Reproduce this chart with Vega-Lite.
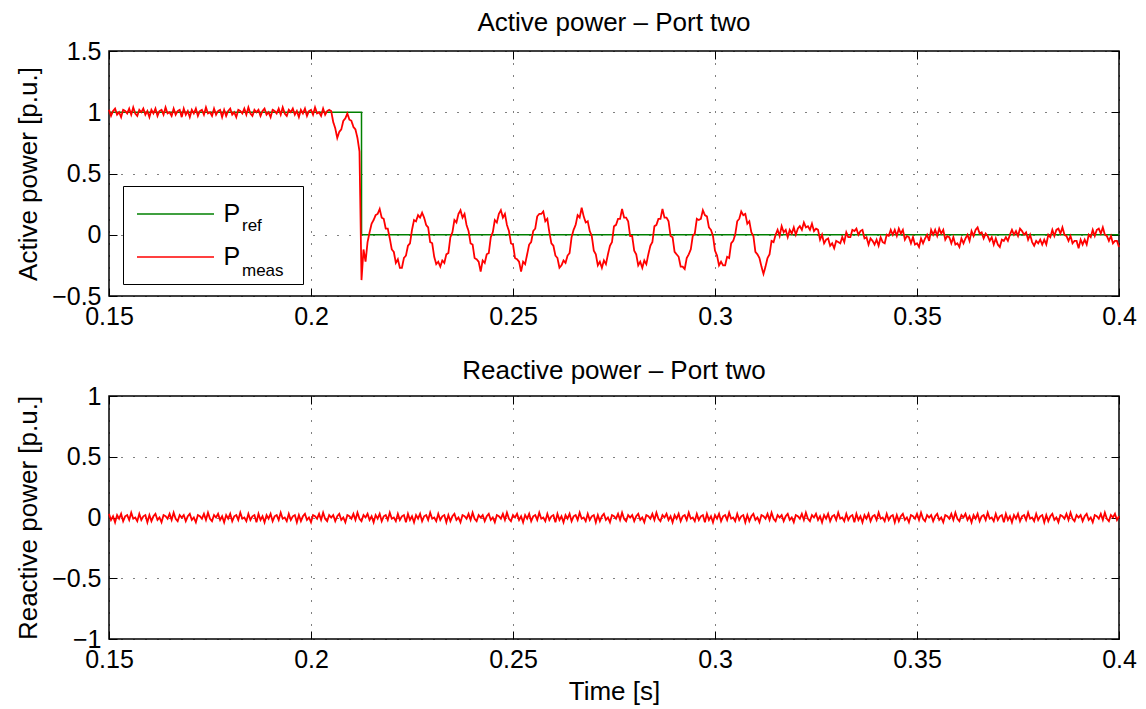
{
"$schema":"https://vega.github.io/schema/vega-lite/v6.json",
"background":"white",
"padding":{"left":14,"top":9,"right":5,"bottom":5},
"config":{"font":"Liberation Sans","view":{"stroke":"black","strokeWidth":1.5},
"axis":{"domain":false,"tickColor":"black","tickWidth":1,"tickSize":-8,"labelFontSize":25,"labelColor":"black","labelPadding":16,"labelFlush":false,"titleFontSize":26,"titleFontWeight":"normal","titleColor":"black","gridColor":"black","gridDash":[1,11],"gridOpacity":1,"gridWidth":1},
"title":{"fontSize":26,"fontWeight":"normal","color":"black","offset":3}},
"datasets":{
"ref":[{"t":0.15,"p":1},{"t":0.2125,"p":1},{"t":0.21251,"p":0},{"t":0.4,"p":0}],
"m":[
{"t":0.15,"p":1.02,"q":0.03},{"t":0.1505,"p":0.97,"q":-0.02},{"t":0.151,"p":1.01,"q":0.01},{"t":0.1515,"p":1.03,"q":-0.04},{"t":0.152,"p":0.98,"q":0.02},{"t":0.1525,"p":1.00,"q":-0.01},{"t":0.153,"p":0.96,"q":0.03},{"t":0.1535,"p":1.02,"q":-0.03},{"t":0.154,"p":1.01,"q":0.01},{"t":0.1545,"p":0.99,"q":0.02},{"t":0.155,"p":1.03,"q":-0.02},{"t":0.1555,"p":0.98,"q":0.04},{"t":0.156,"p":1.04,"q":-0.01},{"t":0.1565,"p":0.99,"q":0.00},{"t":0.157,"p":0.97,"q":-0.03},{"t":0.1575,"p":1.02,"q":0.03},{"t":0.158,"p":1.00,"q":-0.02},{"t":0.1585,"p":1.03,"q":0.01},{"t":0.159,"p":0.98,"q":0.02},{"t":0.1595,"p":1.01,"q":-0.04},{"t":0.16,"p":0.96,"q":0.02},{"t":0.1605,"p":1.02,"q":-0.03},{"t":0.161,"p":0.99,"q":0.01},{"t":0.1615,"p":1.03,"q":0.03},{"t":0.162,"p":0.97,"q":-0.02},{"t":0.1625,"p":1.01,"q":0.00},{"t":0.163,"p":1.02,"q":-0.04},{"t":0.1635,"p":0.98,"q":0.02},{"t":0.164,"p":1.04,"q":0.01},{"t":0.1645,"p":0.99,"q":-0.01},{"t":0.165,"p":1.00,"q":0.03},{"t":0.1655,"p":0.97,"q":-0.02},{"t":0.166,"p":1.03,"q":0.04},{"t":0.1665,"p":0.98,"q":-0.01},{"t":0.167,"p":1.01,"q":-0.03},{"t":0.1675,"p":1.02,"q":0.02},{"t":0.168,"p":0.96,"q":0.00},
{"t":0.1685,"p":1.03,"q":0.02},{"t":0.169,"p":0.98,"q":-0.03},{"t":0.1695,"p":1.01,"q":0.01},{"t":0.17,"p":0.96,"q":0.03},{"t":0.1705,"p":1.02,"q":-0.02},{"t":0.171,"p":0.99,"q":0.00},{"t":0.1715,"p":1.03,"q":-0.04},{"t":0.172,"p":0.97,"q":0.02},{"t":0.1725,"p":1.01,"q":0.01},{"t":0.173,"p":1.02,"q":-0.01},{"t":0.1735,"p":0.98,"q":0.03},{"t":0.174,"p":1.04,"q":-0.02},{"t":0.1745,"p":0.99,"q":0.04},{"t":0.175,"p":1.00,"q":-0.01},{"t":0.1755,"p":0.97,"q":-0.03},{"t":0.176,"p":1.03,"q":0.02},{"t":0.1765,"p":0.98,"q":0.00},{"t":0.177,"p":1.01,"q":0.03},{"t":0.1775,"p":1.02,"q":-0.02},{"t":0.178,"p":0.96,"q":0.01},{"t":0.1785,"p":1.02,"q":-0.04},{"t":0.179,"p":0.97,"q":0.02},{"t":0.1795,"p":1.01,"q":-0.01},{"t":0.18,"p":1.03,"q":0.03},{"t":0.1805,"p":0.98,"q":-0.03},{"t":0.181,"p":1.00,"q":0.01},{"t":0.1815,"p":0.96,"q":0.02},{"t":0.182,"p":1.02,"q":-0.02},{"t":0.1825,"p":1.01,"q":0.04},{"t":0.183,"p":0.99,"q":-0.01},{"t":0.1835,"p":1.03,"q":0.00},{"t":0.184,"p":0.98,"q":-0.03},{"t":0.1845,"p":1.04,"q":0.03},{"t":0.185,"p":0.99,"q":-0.02},{"t":0.1855,"p":0.97,"q":0.01},{"t":0.186,"p":1.02,"q":0.02},{"t":0.1865,"p":1.00,"q":-0.04},
{"t":0.187,"p":1.02,"q":0.03},{"t":0.1875,"p":0.97,"q":-0.02},{"t":0.188,"p":1.01,"q":0.01},{"t":0.1885,"p":1.03,"q":-0.04},{"t":0.189,"p":0.98,"q":0.02},{"t":0.1895,"p":1.00,"q":-0.01},{"t":0.19,"p":0.96,"q":0.03},{"t":0.1905,"p":1.02,"q":-0.03},{"t":0.191,"p":1.01,"q":0.01},{"t":0.1915,"p":0.99,"q":0.02},{"t":0.192,"p":1.03,"q":-0.02},{"t":0.1925,"p":0.98,"q":0.04},{"t":0.193,"p":1.04,"q":-0.01},{"t":0.1935,"p":0.99,"q":0.00},{"t":0.194,"p":0.97,"q":-0.03},{"t":0.1945,"p":1.02,"q":0.03},{"t":0.195,"p":1.00,"q":-0.02},{"t":0.1955,"p":1.03,"q":0.01},{"t":0.196,"p":0.98,"q":0.02},{"t":0.1965,"p":1.01,"q":-0.04},{"t":0.197,"p":0.96,"q":0.02},{"t":0.1975,"p":1.02,"q":-0.03},{"t":0.198,"p":0.99,"q":0.01},{"t":0.1985,"p":1.03,"q":0.03},{"t":0.199,"p":0.97,"q":-0.02},{"t":0.1995,"p":1.01,"q":0.00},{"t":0.2,"p":1.02,"q":-0.04},{"t":0.2005,"p":0.98,"q":0.02},{"t":0.201,"p":1.04,"q":0.01},{"t":0.2015,"p":0.99,"q":-0.01},{"t":0.202,"p":1.00,"q":0.03},{"t":0.2025,"p":0.97,"q":-0.02},{"t":0.203,"p":1.03,"q":0.04},{"t":0.2035,"p":0.98,"q":-0.01},{"t":0.204,"p":1.01,"q":-0.03},{"t":0.2045,"p":1.02,"q":0.02},{"t":0.205,"p":1.01,"q":0.00},
{"t":0.2055,"p":0.92,"q":0.02},{"t":0.206,"p":0.87,"q":-0.03},{"t":0.2065,"p":0.79,"q":0.01},{"t":0.207,"p":0.84,"q":0.03},{"t":0.2075,"p":0.86,"q":-0.02},{"t":0.208,"p":0.93,"q":0.00},{"t":0.2085,"p":0.95,"q":-0.04},{"t":0.209,"p":0.99,"q":0.02},{"t":0.2095,"p":0.94,"q":0.01},{"t":0.21,"p":0.93,"q":-0.01},{"t":0.2105,"p":0.88,"q":0.03},{"t":0.211,"p":0.86,"q":-0.02},{"t":0.2115,"p":0.79,"q":0.04},{"t":0.212,"p":0.68,"q":-0.01},{"t":0.2125,"p":-0.37,"q":-0.03},{"t":0.213,"p":-0.12,"q":0.02},{"t":0.2135,"p":-0.22,"q":0.00},{"t":0.214,"p":-0.06,"q":0.03},{"t":0.2145,"p":0.02,"q":-0.02},{"t":0.215,"p":0.09,"q":0.01},{"t":0.2155,"p":0.12,"q":-0.04},{"t":0.216,"p":0.16,"q":0.02},{"t":0.2165,"p":0.17,"q":-0.01},{"t":0.217,"p":0.21,"q":0.03},{"t":0.2175,"p":0.14,"q":-0.03},{"t":0.218,"p":0.13,"q":0.01},{"t":0.2185,"p":0.05,"q":0.02},{"t":0.219,"p":0.05,"q":-0.02},{"t":0.2195,"p":-0.03,"q":0.04},{"t":0.22,"p":-0.12,"q":-0.01},{"t":0.2205,"p":-0.14,"q":0.00},{"t":0.221,"p":-0.23,"q":-0.03},{"t":0.2215,"p":-0.20,"q":0.03},{"t":0.222,"p":-0.27,"q":-0.02},{"t":0.2225,"p":-0.27,"q":0.01},{"t":0.223,"p":-0.19,"q":0.02},{"t":0.2235,"p":-0.17,"q":-0.04},
{"t":0.224,"p":-0.09,"q":0.03},{"t":0.2245,"p":-0.07,"q":-0.02},{"t":0.225,"p":0.04,"q":0.01},{"t":0.2255,"p":0.12,"q":-0.04},{"t":0.226,"p":0.11,"q":0.02},{"t":0.2265,"p":0.16,"q":-0.01},{"t":0.227,"p":0.14,"q":0.03},{"t":0.2275,"p":0.18,"q":-0.03},{"t":0.228,"p":0.14,"q":0.01},{"t":0.2285,"p":0.08,"q":0.02},{"t":0.229,"p":0.06,"q":-0.02},{"t":0.2295,"p":-0.06,"q":0.04},{"t":0.23,"p":-0.07,"q":-0.01},{"t":0.2305,"p":-0.18,"q":0.00},{"t":0.231,"p":-0.24,"q":-0.03},{"t":0.2315,"p":-0.22,"q":0.03},{"t":0.232,"p":-0.26,"q":-0.02},{"t":0.2325,"p":-0.21,"q":0.01},{"t":0.233,"p":-0.23,"q":0.02},{"t":0.2335,"p":-0.16,"q":-0.04},{"t":0.234,"p":-0.15,"q":0.02},{"t":0.2345,"p":-0.02,"q":-0.03},{"t":0.235,"p":0.02,"q":0.01},{"t":0.2355,"p":0.12,"q":0.03},{"t":0.236,"p":0.10,"q":-0.02},{"t":0.2365,"p":0.17,"q":0.00},{"t":0.237,"p":0.20,"q":-0.04},{"t":0.2375,"p":0.14,"q":0.02},{"t":0.238,"p":0.17,"q":0.01},{"t":0.2385,"p":0.08,"q":-0.01},{"t":0.239,"p":0.03,"q":0.03},{"t":0.2395,"p":-0.07,"q":-0.02},{"t":0.24,"p":-0.08,"q":0.04},{"t":0.2405,"p":-0.19,"q":-0.01},{"t":0.241,"p":-0.20,"q":-0.03},{"t":0.2415,"p":-0.22,"q":0.02},{"t":0.242,"p":-0.30,"q":0.00},
{"t":0.2425,"p":-0.21,"q":0.02},{"t":0.243,"p":-0.23,"q":-0.03},{"t":0.2435,"p":-0.16,"q":0.01},{"t":0.244,"p":-0.15,"q":0.03},{"t":0.2445,"p":-0.02,"q":-0.02},{"t":0.245,"p":0.02,"q":0.00},{"t":0.2455,"p":0.12,"q":-0.04},{"t":0.246,"p":0.10,"q":0.02},{"t":0.2465,"p":0.17,"q":0.01},{"t":0.247,"p":0.20,"q":-0.01},{"t":0.2475,"p":0.14,"q":0.03},{"t":0.248,"p":0.17,"q":-0.02},{"t":0.2485,"p":0.08,"q":0.04},{"t":0.249,"p":0.03,"q":-0.01},{"t":0.2495,"p":-0.07,"q":-0.03},{"t":0.25,"p":-0.08,"q":0.02},{"t":0.2505,"p":-0.19,"q":0.00},{"t":0.251,"p":-0.20,"q":0.03},{"t":0.2515,"p":-0.22,"q":-0.02},{"t":0.252,"p":-0.30,"q":0.01},{"t":0.2525,"p":-0.22,"q":-0.04},{"t":0.253,"p":-0.24,"q":0.02},{"t":0.2535,"p":-0.16,"q":-0.01},{"t":0.254,"p":-0.08,"q":0.03},{"t":0.2545,"p":-0.06,"q":-0.03},{"t":0.255,"p":0.03,"q":0.01},{"t":0.2555,"p":0.05,"q":0.02},{"t":0.256,"p":0.15,"q":-0.02},{"t":0.2565,"p":0.17,"q":0.04},{"t":0.257,"p":0.17,"q":-0.01},{"t":0.2575,"p":0.19,"q":0.00},{"t":0.258,"p":0.11,"q":-0.03},{"t":0.2585,"p":0.13,"q":0.03},{"t":0.259,"p":0.02,"q":-0.02},{"t":0.2595,"p":-0.07,"q":0.01},{"t":0.26,"p":-0.09,"q":0.02},{"t":0.2605,"p":-0.17,"q":-0.04},
{"t":0.261,"p":-0.19,"q":0.03},{"t":0.2615,"p":-0.27,"q":-0.02},{"t":0.262,"p":-0.25,"q":0.01},{"t":0.2625,"p":-0.21,"q":-0.04},{"t":0.263,"p":-0.23,"q":0.02},{"t":0.2635,"p":-0.17,"q":-0.01},{"t":0.264,"p":-0.15,"q":0.03},{"t":0.2645,"p":-0.02,"q":-0.03},{"t":0.265,"p":0.04,"q":0.01},{"t":0.2655,"p":0.08,"q":0.02},{"t":0.266,"p":0.16,"q":-0.02},{"t":0.2665,"p":0.14,"q":0.04},{"t":0.267,"p":0.22,"q":-0.01},{"t":0.2675,"p":0.15,"q":0.00},{"t":0.268,"p":0.10,"q":-0.03},{"t":0.2685,"p":0.11,"q":0.03},{"t":0.269,"p":0.03,"q":-0.02},{"t":0.2695,"p":-0.01,"q":0.01},{"t":0.27,"p":-0.13,"q":0.02},{"t":0.2705,"p":-0.16,"q":-0.04},{"t":0.271,"p":-0.25,"q":0.02},{"t":0.2715,"p":-0.22,"q":-0.03},{"t":0.272,"p":-0.27,"q":0.01},{"t":0.2725,"p":-0.21,"q":0.03},{"t":0.273,"p":-0.24,"q":-0.02},{"t":0.2735,"p":-0.16,"q":0.00},{"t":0.274,"p":-0.09,"q":-0.04},{"t":0.2745,"p":-0.06,"q":0.02},{"t":0.275,"p":0.07,"q":0.01},{"t":0.2755,"p":0.08,"q":-0.01},{"t":0.276,"p":0.13,"q":0.03},{"t":0.2765,"p":0.13,"q":-0.02},{"t":0.277,"p":0.21,"q":0.04},{"t":0.2775,"p":0.14,"q":-0.01},{"t":0.278,"p":0.14,"q":-0.03},{"t":0.2785,"p":0.11,"q":0.02},{"t":0.279,"p":-0.01,"q":0.00},
{"t":0.2795,"p":-0.01,"q":0.02},{"t":0.28,"p":-0.13,"q":-0.03},{"t":0.2805,"p":-0.16,"q":0.01},{"t":0.281,"p":-0.25,"q":0.03},{"t":0.2815,"p":-0.22,"q":-0.02},{"t":0.282,"p":-0.27,"q":0.00},{"t":0.2825,"p":-0.21,"q":-0.04},{"t":0.283,"p":-0.24,"q":0.02},{"t":0.2835,"p":-0.16,"q":0.01},{"t":0.284,"p":-0.09,"q":-0.01},{"t":0.2845,"p":-0.06,"q":0.03},{"t":0.285,"p":0.07,"q":-0.02},{"t":0.2855,"p":0.08,"q":0.04},{"t":0.286,"p":0.13,"q":-0.01},{"t":0.2865,"p":0.13,"q":-0.03},{"t":0.287,"p":0.21,"q":0.02},{"t":0.2875,"p":0.14,"q":0.00},{"t":0.288,"p":0.14,"q":0.03},{"t":0.2885,"p":0.11,"q":-0.02},{"t":0.289,"p":-0.01,"q":0.01},{"t":0.2895,"p":-0.02,"q":-0.04},{"t":0.29,"p":-0.14,"q":0.02},{"t":0.2905,"p":-0.16,"q":-0.01},{"t":0.291,"p":-0.18,"q":0.03},{"t":0.2915,"p":-0.26,"q":-0.03},{"t":0.292,"p":-0.26,"q":0.01},{"t":0.2925,"p":-0.28,"q":0.02},{"t":0.293,"p":-0.19,"q":-0.02},{"t":0.2935,"p":-0.16,"q":0.04},{"t":0.294,"p":-0.12,"q":-0.01},{"t":0.2945,"p":-0.01,"q":0.00},{"t":0.295,"p":0.01,"q":-0.03},{"t":0.2955,"p":0.13,"q":0.03},{"t":0.296,"p":0.12,"q":-0.02},{"t":0.2965,"p":0.13,"q":0.01},{"t":0.297,"p":0.20,"q":0.02},{"t":0.2975,"p":0.16,"q":-0.04},
{"t":0.298,"p":0.15,"q":0.03},{"t":0.2985,"p":0.06,"q":-0.02},{"t":0.299,"p":0.04,"q":0.01},{"t":0.2995,"p":-0.01,"q":-0.04},{"t":0.3,"p":-0.13,"q":0.02},{"t":0.3005,"p":-0.17,"q":-0.01},{"t":0.301,"p":-0.25,"q":0.03},{"t":0.3015,"p":-0.22,"q":-0.03},{"t":0.302,"p":-0.25,"q":0.01},{"t":0.3025,"p":-0.25,"q":0.02},{"t":0.303,"p":-0.18,"q":-0.02},{"t":0.3035,"p":-0.19,"q":0.04},{"t":0.304,"p":-0.07,"q":-0.01},{"t":0.3045,"p":-0.05,"q":0.00},{"t":0.305,"p":0.00,"q":-0.03},{"t":0.3055,"p":0.11,"q":0.03},{"t":0.306,"p":0.13,"q":-0.02},{"t":0.3065,"p":0.19,"q":0.01},{"t":0.307,"p":0.16,"q":0.02},{"t":0.3075,"p":0.17,"q":-0.04},{"t":0.308,"p":0.09,"q":0.02},{"t":0.3085,"p":0.11,"q":-0.03},{"t":0.309,"p":0.02,"q":0.01},{"t":0.3095,"p":-0.01,"q":0.03},{"t":0.31,"p":-0.14,"q":-0.02},{"t":0.3105,"p":-0.16,"q":0.00},{"t":0.311,"p":-0.19,"q":-0.04},{"t":0.3115,"p":-0.26,"q":0.02},{"t":0.312,"p":-0.32,"q":0.01},{"t":0.3125,"p":-0.26,"q":-0.01},{"t":0.313,"p":-0.19,"q":0.03},{"t":0.3135,"p":-0.16,"q":-0.02},{"t":0.314,"p":-0.05,"q":0.04},{"t":0.3145,"p":-0.06,"q":-0.01},{"t":0.315,"p":0.00,"q":-0.03},{"t":0.3155,"p":0.04,"q":0.02},{"t":0.316,"p":-0.01,"q":0.00},
{"t":0.3165,"p":0.07,"q":0.02},{"t":0.317,"p":0.02,"q":-0.03},{"t":0.3175,"p":0.04,"q":0.01},{"t":0.318,"p":-0.02,"q":0.03},{"t":0.3185,"p":0.04,"q":-0.02},{"t":0.319,"p":0.01,"q":0.00},{"t":0.3195,"p":0.06,"q":-0.04},{"t":0.32,"p":0.00,"q":0.02},{"t":0.3205,"p":0.05,"q":0.01},{"t":0.321,"p":0.07,"q":-0.01},{"t":0.3215,"p":0.04,"q":0.03},{"t":0.322,"p":0.10,"q":-0.02},{"t":0.3225,"p":0.06,"q":0.04},{"t":0.323,"p":0.07,"q":-0.01},{"t":0.3235,"p":0.04,"q":-0.03},{"t":0.324,"p":0.09,"q":0.02},{"t":0.3245,"p":0.03,"q":0.00},{"t":0.325,"p":0.05,"q":0.03},{"t":0.3255,"p":0.04,"q":-0.02},{"t":0.326,"p":-0.04,"q":0.01},{"t":0.3265,"p":0.00,"q":-0.04},{"t":0.327,"p":-0.07,"q":0.02},{"t":0.3275,"p":-0.04,"q":-0.01},{"t":0.328,"p":-0.03,"q":0.03},{"t":0.3285,"p":-0.09,"q":-0.03},{"t":0.329,"p":-0.07,"q":0.01},{"t":0.3295,"p":-0.11,"q":0.02},{"t":0.33,"p":-0.05,"q":-0.02},{"t":0.3305,"p":-0.06,"q":0.04},{"t":0.331,"p":-0.07,"q":-0.01},{"t":0.3315,"p":-0.02,"q":0.00},{"t":0.332,"p":-0.06,"q":-0.03},{"t":0.3325,"p":0.02,"q":0.03},{"t":0.333,"p":-0.02,"q":-0.02},{"t":0.3335,"p":-0.02,"q":0.01},{"t":0.334,"p":0.04,"q":0.02},{"t":0.3345,"p":0.03,"q":-0.04},
{"t":0.335,"p":0.05,"q":0.03},{"t":0.3355,"p":0.00,"q":-0.02},{"t":0.336,"p":0.03,"q":0.01},{"t":0.3365,"p":0.04,"q":-0.04},{"t":0.337,"p":-0.03,"q":0.02},{"t":0.3375,"p":-0.02,"q":-0.01},{"t":0.338,"p":-0.08,"q":0.03},{"t":0.3385,"p":-0.03,"q":-0.03},{"t":0.339,"p":-0.05,"q":0.01},{"t":0.3395,"p":-0.08,"q":0.02},{"t":0.34,"p":-0.04,"q":-0.02},{"t":0.3405,"p":-0.09,"q":0.04},{"t":0.341,"p":-0.02,"q":-0.01},{"t":0.3415,"p":-0.06,"q":0.00},{"t":0.342,"p":-0.07,"q":-0.03},{"t":0.3425,"p":0.00,"q":0.03},{"t":0.343,"p":-0.01,"q":-0.02},{"t":0.3435,"p":0.04,"q":0.01},{"t":0.344,"p":0.00,"q":0.02},{"t":0.3445,"p":0.04,"q":-0.04},{"t":0.345,"p":-0.01,"q":0.02},{"t":0.3455,"p":0.05,"q":-0.03},{"t":0.346,"p":0.01,"q":0.01},{"t":0.3465,"p":0.04,"q":0.03},{"t":0.347,"p":-0.04,"q":-0.02},{"t":0.3475,"p":-0.01,"q":0.00},{"t":0.348,"p":-0.02,"q":-0.04},{"t":0.3485,"p":-0.07,"q":0.02},{"t":0.349,"p":-0.02,"q":0.01},{"t":0.3495,"p":-0.08,"q":-0.01},{"t":0.35,"p":-0.07,"q":0.03},{"t":0.3505,"p":-0.10,"q":-0.02},{"t":0.351,"p":-0.03,"q":0.04},{"t":0.3515,"p":-0.07,"q":-0.01},{"t":0.352,"p":-0.03,"q":-0.03},{"t":0.3525,"p":0.00,"q":0.02},{"t":0.353,"p":-0.05,"q":0.00},
{"t":0.3535,"p":0.04,"q":0.02},{"t":0.354,"p":0.00,"q":-0.03},{"t":0.3545,"p":0.04,"q":0.01},{"t":0.355,"p":-0.01,"q":0.03},{"t":0.3555,"p":0.05,"q":-0.02},{"t":0.356,"p":0.01,"q":0.00},{"t":0.3565,"p":0.04,"q":-0.04},{"t":0.357,"p":-0.04,"q":0.02},{"t":0.3575,"p":-0.01,"q":0.01},{"t":0.358,"p":-0.02,"q":-0.01},{"t":0.3585,"p":-0.07,"q":0.03},{"t":0.359,"p":-0.02,"q":-0.02},{"t":0.3595,"p":-0.08,"q":0.04},{"t":0.36,"p":-0.07,"q":-0.01},{"t":0.3605,"p":-0.10,"q":-0.03},{"t":0.361,"p":-0.03,"q":0.02},{"t":0.3615,"p":-0.07,"q":0.00},{"t":0.362,"p":-0.03,"q":0.03},{"t":0.3625,"p":0.00,"q":-0.02},{"t":0.363,"p":-0.05,"q":0.01},{"t":0.3635,"p":0.03,"q":-0.04},{"t":0.364,"p":-0.01,"q":0.02},{"t":0.3645,"p":0.04,"q":-0.01},{"t":0.365,"p":0.06,"q":0.03},{"t":0.3655,"p":0.01,"q":-0.03},{"t":0.366,"p":0.02,"q":0.01},{"t":0.3665,"p":-0.03,"q":0.02},{"t":0.367,"p":0.01,"q":-0.02},{"t":0.3675,"p":-0.01,"q":0.04},{"t":0.368,"p":-0.05,"q":-0.01},{"t":0.3685,"p":-0.02,"q":0.00},{"t":0.369,"p":-0.08,"q":-0.03},{"t":0.3695,"p":-0.03,"q":0.03},{"t":0.37,"p":-0.08,"q":-0.02},{"t":0.3705,"p":-0.10,"q":0.01},{"t":0.371,"p":-0.04,"q":0.02},{"t":0.3715,"p":-0.05,"q":-0.04},
{"t":0.372,"p":-0.02,"q":0.03},{"t":0.3725,"p":-0.05,"q":-0.02},{"t":0.373,"p":0.00,"q":0.01},{"t":0.3735,"p":0.04,"q":-0.04},{"t":0.374,"p":0.00,"q":0.02},{"t":0.3745,"p":0.03,"q":-0.01},{"t":0.375,"p":-0.01,"q":0.03},{"t":0.3755,"p":0.05,"q":-0.03},{"t":0.376,"p":0.03,"q":0.01},{"t":0.3765,"p":0.00,"q":0.02},{"t":0.377,"p":0.02,"q":-0.02},{"t":0.3775,"p":-0.04,"q":0.04},{"t":0.378,"p":0.00,"q":-0.01},{"t":0.3785,"p":-0.06,"q":0.00},{"t":0.379,"p":-0.09,"q":-0.03},{"t":0.3795,"p":-0.05,"q":0.03},{"t":0.38,"p":-0.07,"q":-0.02},{"t":0.3805,"p":-0.04,"q":0.01},{"t":0.381,"p":-0.08,"q":0.02},{"t":0.3815,"p":-0.04,"q":-0.04},{"t":0.382,"p":-0.08,"q":0.02},{"t":0.3825,"p":0.00,"q":-0.03},{"t":0.383,"p":-0.02,"q":0.01},{"t":0.3835,"p":0.04,"q":0.03},{"t":0.384,"p":-0.01,"q":-0.02},{"t":0.3845,"p":0.04,"q":0.00},{"t":0.385,"p":0.05,"q":-0.04},{"t":0.3855,"p":0.01,"q":0.02},{"t":0.386,"p":0.06,"q":0.01},{"t":0.3865,"p":0.00,"q":-0.01},{"t":0.387,"p":-0.01,"q":0.03},{"t":0.3875,"p":-0.05,"q":-0.02},{"t":0.388,"p":-0.01,"q":0.04},{"t":0.3885,"p":-0.07,"q":-0.01},{"t":0.389,"p":-0.05,"q":-0.03},{"t":0.3895,"p":-0.05,"q":0.02},{"t":0.39,"p":-0.11,"q":0.00},
{"t":0.3905,"p":-0.04,"q":0.02},{"t":0.391,"p":-0.08,"q":-0.03},{"t":0.3915,"p":-0.04,"q":0.01},{"t":0.392,"p":-0.08,"q":0.03},{"t":0.3925,"p":0.00,"q":-0.02},{"t":0.393,"p":-0.02,"q":0.00},{"t":0.3935,"p":0.04,"q":-0.04},{"t":0.394,"p":-0.01,"q":0.02},{"t":0.3945,"p":0.04,"q":0.01},{"t":0.395,"p":0.05,"q":-0.01},{"t":0.3955,"p":0.01,"q":0.03},{"t":0.396,"p":0.06,"q":-0.02},{"t":0.3965,"p":0.00,"q":0.04},{"t":0.397,"p":-0.01,"q":-0.01},{"t":0.3975,"p":-0.05,"q":-0.03},{"t":0.398,"p":-0.01,"q":0.02},{"t":0.3985,"p":-0.07,"q":0.00},{"t":0.399,"p":-0.05,"q":0.03},{"t":0.3995,"p":-0.05,"q":-0.02},{"t":0.4,"p":-0.10,"q":0.01}
]},
"spacing":100,
"bounds":"flush",
"resolve":{"scale":{"x":"independent","y":"independent","color":"independent","strokeDash":"independent"},"legend":{"color":"independent","strokeDash":"independent"}},
"vconcat":[
{"width":1010,"height":245,
"title":{"text":"Active power – Port two"},
"layer":[
{"data":{"name":"ref"},"mark":{"type":"line","strokeWidth":1.5},
"encoding":{
"x":{"field":"t","type":"quantitative","scale":{"domain":[0.15,0.4],"nice":false,"zero":false},"axis":{"orient":"bottom","values":[0.15,0.2,0.25,0.3,0.35,0.4],"format":"~g","title":null,"grid":true}},
"y":{"field":"p","type":"quantitative","scale":{"domain":[-0.5,1.5],"nice":false,"zero":false},"axis":{"orient":"left","values":[-0.5,0,0.5,1,1.5],"format":"~g","title":"Active power [p.u.]","titlePadding":10,"grid":true}},
"color":{"datum":"Pref","type":"nominal","scale":{"domain":["Pref","Pmeas"],"range":["#008000","#ff0000"]},
"legend":{"orient":"none","legendX":14,"legendY":135,"title":"MMMM","titleOrient":"right","titleFontSize":14,"titleOpacity":0,"titlePadding":2,"symbolType":"M-3,0H3","symbolSize":659,"symbolStrokeWidth":1.5,"symbolOffset":24.5,"labelExpr":"'P'","labelFontSize":25,"labelColor":"black","labelOffset":34,"padding":14,"rowPadding":16,"strokeColor":"black","fillColor":"white","cornerRadius":0,"zindex":1}},
"strokeDash":{"datum":"ref","type":"nominal","scale":{"domain":["ref","meas"],"range":[[1,0],[1,0]]},
"legend":{"orient":"none","legendX":116,"legendY":166,"title":null,"symbolType":"circle","symbolSize":1,"symbolStrokeWidth":0,"symbolOpacity":0,"labelFontSize":17,"labelColor":"black","labelOffset":0,"padding":0,"rowPadding":27,"zindex":2}}
}},
{"data":{"name":"m"},"mark":{"type":"line","strokeWidth":1.8},
"encoding":{
"x":{"field":"t","type":"quantitative","axis":{"orient":"top","values":[0.15,0.2,0.25,0.3,0.35,0.4],"labels":false,"title":null,"grid":false}},
"y":{"field":"p","type":"quantitative","axis":{"orient":"right","values":[-0.5,0,0.5,1,1.5],"labels":false,"title":null,"grid":false}},
"color":{"datum":"Pmeas","type":"nominal"},
"strokeDash":{"datum":"meas","type":"nominal"}
}}
],
"resolve":{"axis":{"x":"independent","y":"independent"}}
},
{"width":1010,"height":243,
"title":{"text":"Reactive power – Port two","offset":0},
"data":{"name":"m"},
"layer":[
{"mark":{"type":"line","strokeWidth":1.8,"color":"#ff0000"},
"encoding":{
"x":{"field":"t","type":"quantitative","scale":{"domain":[0.15,0.4],"nice":false,"zero":false},"axis":{"orient":"bottom","values":[0.15,0.2,0.25,0.3,0.35,0.4],"format":"~g","title":"Time [s]","titlePadding":6,"grid":true}},
"y":{"field":"q","type":"quantitative","scale":{"domain":[-1,1],"nice":false,"zero":false},"axis":{"orient":"left","values":[-1,-0.5,0,0.5,1],"format":"~g","title":"Reactive power [p.u.]","titlePadding":10,"grid":true}}
}},
{"mark":{"type":"line","opacity":0},
"encoding":{
"x":{"field":"t","type":"quantitative","axis":{"orient":"top","values":[0.15,0.2,0.25,0.3,0.35,0.4],"labels":false,"title":null,"grid":false}},
"y":{"field":"q","type":"quantitative","axis":{"orient":"right","values":[-1,-0.5,0,0.5,1],"labels":false,"title":null,"grid":false}}
}}
],
"resolve":{"axis":{"x":"independent","y":"independent"}}
}
]
}
